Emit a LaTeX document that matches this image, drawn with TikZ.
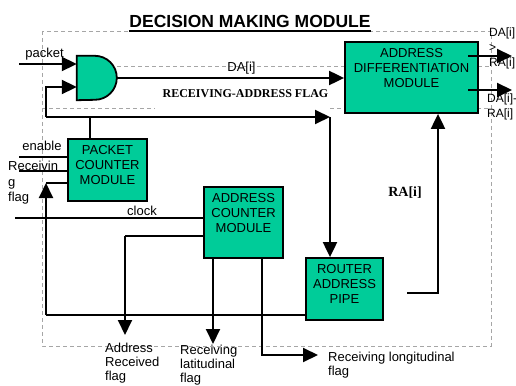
\documentclass[tikz,border=0pt]{standalone}
\usepackage{fontspec}
\setmainfont{Liberation Sans}
\newfontfamily\serifb{Liberation Serif}
\usetikzlibrary{arrows.meta}
\definecolor{modgreen}{RGB}{0,204,153}
\begin{document}
\begin{tikzpicture}[x=1pt,y=-1pt,
  box/.style={draw, line width=1.8pt, fill=modgreen, inner sep=0pt},
  boxtxt/.style={anchor=north, inner sep=0pt, align=center, font=\fontsize{13}{15}\selectfont},
  lbl/.style={inner sep=0pt, align=left, font=\fontsize{13}{14}\selectfont},
  boldlbl/.style={inner sep=0pt, font={\serifb\fontsize{12}{14}\selectfont\bfseries}},
  wire/.style={line width=2pt},
  thinwire/.style={line width=1.3pt},
  arr/.style={line width=2pt, -{Triangle[length=15pt,width=14pt]}},
  framedash/.style={draw=gray!70, line width=0.7pt, dash pattern=on 4pt off 3pt}]
\useasboundingbox (0,0) rectangle (516,385);

% dashed frame lines
\draw[framedash] (42,31) rectangle (491,346);
\draw[framedash] (117,66) -- (345,66);
\draw[framedash] (478,66) -- (491,66);
\draw[framedash] (42,108) -- (155,108);
\draw[framedash] (330,108) -- (491,108);

% title
\node[inner sep=0pt, font=\fontsize{17.5}{20}\selectfont\bfseries] (title) at (250,21.3) {DECISION MAKING MODULE};
\coordinate (uline) at (0,31);
\draw[line width=1.5pt] (title.west |- uline) -- (title.east |- uline);

% boxes
\node[box, minimum width=79pt, minimum height=62pt] (pcm) at (107.5,170) {};
\node[boxtxt, yshift=-7pt] (pcmt) at (pcm.north) {PACKET\\COUNTER\\MODULE};
\node[box, minimum width=79pt, minimum height=71pt] (acm) at (243.5,222.5) {};
\node[boxtxt, yshift=-7pt] (acmt) at (acm.north) {ADDRESS\\COUNTER\\MODULE};
\node[box, minimum width=133pt, minimum height=71pt] (adm) at (411.5,77.5) {};
\node[boxtxt, yshift=-7pt, font=\fontsize{13}{15}\selectfont] (admt) at (adm.north) {ADDRESS\\DIFFERENTIATION\\MODULE};
\node[box, minimum width=77pt, minimum height=62pt] (router) at (344.5,289) {};
\node[boxtxt, yshift=-7pt] (routert) at (router.north) {ROUTER\\ADDRESS\\PIPE};

% AND gate
\node[inner sep=0pt, minimum width=40pt, minimum height=44pt] (gate) at (97,78) {};
\draw[line width=1.8pt, fill=modgreen] (gate.north west) -- ++(18,0)
  arc[start angle=90, end angle=-90, radius=22pt] -- (gate.south west) -- cycle;

% packet input
\coordinate (pin) at (19,64);
\node[lbl] (lpacket) at (44.5,54) {packet};
\draw[arr] (pin) -- (pin -| gate.west);

% feedback loop / receiving-address flag
\coordinate (fbL) at (46,117);
\coordinate (fbR) at (330,117);
\coordinate (in2) at (46,87);
\coordinate (pcmtap) at (90,117);
\draw[arr] (fbL) -- (in2) -- (in2 -| gate.west);
\draw[arr] (fbL) -- (fbR);
\draw[arr] (fbR) -- (fbR |- router.north);
\draw[wire] (pcmtap) -- (pcmtap |- pcm.north);

% gate output
\draw[arr] (gate.east) -- (gate.east -| adm.west);
\node[lbl] (lda) at (241.5,68) {DA[i]};
\node[boldlbl] (lraf) at (245.5,94) {RECEIVING-ADDRESS FLAG};

% ADM outputs
\coordinate (o1) at (468,56);
\coordinate (o1e) at (512,56);
\coordinate (o2) at (468,90);
\coordinate (o2e) at (512,90);
\draw[arr] (o1) -- (o1e);
\draw[arr] (o2) -- (o2e);
\node[lbl, anchor=north west, font=\fontsize{12}{15}\selectfont] (lo1) at (489,27.5) {DA[i]\\>\\RA[i]};
\node[lbl, anchor=north west, font=\fontsize{12}{15}\selectfont] (lo2) at (487,94) {DA[i]-\\RA[i]};

% RA[i] into ADM
\coordinate (ras) at (407,293);
\coordinate (rac) at (438,293);
\draw[arr] (ras) -- (rac) -- (rac |- adm.south);
\node[boldlbl, font={\serifb\fontsize{14}{16}\selectfont\bfseries}] (lra) at (405,193) {RA[i]};

% PCM inputs
\coordinate (en) at (19,157);
\coordinate (rf) at (19,171);
\draw[thinwire] (en) -- (en -| pcm.west);
\draw[thinwire] (rf) -- (rf -| pcm.west);
\node[lbl] (lenable) at (42,146) {enable};
\node[lbl, anchor=north west, font=\fontsize{13}{15.5}\selectfont] (lrf) at (8,161) {Receivin\\g\\flag};

% loop from router back to PCM
\coordinate (lb) at (46,315);
\coordinate (lt) at (46,183);
\draw[thinwire] (router.west |- lb) -- (lb);
\draw[arr] (lb) -- (lt);
\draw[wire] (lt) -- (lt -| pcm.west);

% clock
\coordinate (ck) at (15,218);
\draw[thinwire] (ck) -- (ck -| acm.west);
\node[lbl] (lclock) at (142,211) {clock};

% ACM outputs
\coordinate (arf) at (125,236);
\coordinate (arfe) at (125,335);
\draw[thinwire] (arf -| acm.west) -- (arf);
\draw[arr] (arf) -- (arfe);
\coordinate (latx) at (213,344);
\draw[arr] (latx |- acm.south) -- (latx);
\coordinate (lonc) at (262,355);
\coordinate (lone) at (318,355);
\draw[arr] (lonc |- acm.south) -- (lonc) -- (lone);

\node[lbl, anchor=north west] (larf) at (105,343) {Address\\Received\\flag};
\node[lbl, anchor=north west] (llat) at (180,344.5) {Receiving\\latitudinal\\flag};
\node[lbl, anchor=north west] (llon) at (328,352) {Receiving longitudinal\\flag};
\end{tikzpicture}
\end{document}
